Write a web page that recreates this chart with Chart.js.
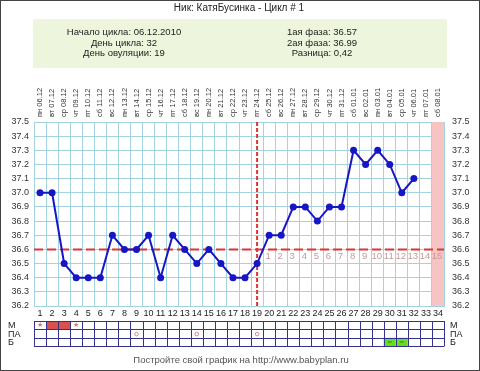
<!DOCTYPE html>
<html><head><meta charset="utf-8">
<script src="https://cdn.jsdelivr.net/npm/chart.js@4/dist/chart.umd.min.js"></script>
<style>html,body{margin:0;padding:0;background:#fff}canvas{display:block}</style>
</head><body>
<canvas id="c" width="480" height="371"></canvas>
<script>
// ---- data ----
const titleText = 'Ник: КатяБусинка - Цикл # 1';
const infoLeft = ['Начало цикла: 06.12.2010', 'День цикла: 32', 'День овуляции: 19'];
const infoRight = ['1ая фаза: 36.57', '2ая фаза: 36.99', 'Разница: 0,42'];
const footerText = 'Постройте свой график на http://www.babyplan.ru';

const days = ['1','2','3','4','5','6','7','8','9','10','11','12','13','14','15','16','17','18','19','20','21','22','23','24','25','26','27','28','29','30','31','32','33','34'];
const weekdays = ['пн','вт','ср','чт','пт','сб','вс','пн','вт','ср','чт','пт','сб','вс','пн','вт','ср','чт','пт','сб','вс','пн','вт','ср','чт','пт','сб','вс','пн','вт','ср','чт','пт','сб'];
const dates = ['06.12','07.12','08.12','09.12','10.12','11.12','12.12','13.12','14.12','15.12','16.12','17.12','18.12','19.12','20.12','21.12','22.12','23.12','24.12','25.12','26.12','27.12','28.12','29.12','30.12','31.12','01.01','02.01','03.01','04.01','05.01','06.01','07.01','08.01'];
const temps = [37.0,37.0,36.5,36.4,36.4,36.4,36.7,36.6,36.6,36.7,36.4,36.7,36.6,36.5,36.6,36.5,36.4,36.4,36.5,36.7,36.7,36.9,36.9,36.8,36.9,36.9,37.3,37.2,37.3,37.2,37.0,37.1,null,null];
const tempMin = 36.2, tempMax = 37.5, tempStep = 0.1;
const coverline = 36.6;
const ovulationDay = '19';
const lutealStartDay = '20';
const lutealLabels = ['1','2','3','4','5','6','7','8','9','10','11','12','13','14','15'];
const highlightDays = ['34'];
const rowLabels = ['М','ПА','Б'];
// per-day markers: M row ('s' = star, 'f' = filled), PA row ('o'), B row ('g')
const rowM  = ['s','f','f','s','','','','','','','','','','','','','','','','','','','','','','','','','','','','','',''];
const rowPA = ['','','','','','','','','o','','','','','o','','','','','o','','','','','','','','','','','','','','',''];
const rowB  = ['','','','','','','','','','','','','','','','','','','','','','','','','','','','','','g','g','','',''];

// ---- style ----
const FONT = "'Liberation Sans', Arial, sans-serif";
const gridColor = '#a3d3de';

const decor = {
  id: 'decor',
  beforeDraw(chart) {
    const ctx = chart.ctx;
    ctx.save();
    ctx.fillStyle = '#fff';
    ctx.fillRect(0, 0, chart.width, chart.height);
    ctx.fillStyle = '#222';
    ctx.font = '10px ' + FONT;
    ctx.textAlign = 'center';
    ctx.textBaseline = 'middle';
    ctx.fillText(titleText, 239, 8);
    ctx.fillStyle = '#edf6dc';
    ctx.fillRect(33, 19, 414, 49);
    ctx.fillStyle = '#222';
    ctx.font = '9.5px ' + FONT;
    const ys = [32, 43, 53.5];
    infoLeft.forEach((t, i) => ctx.fillText(t, 124, ys[i]));
    infoRight.forEach((t, i) => ctx.fillText(t, 322, ys[i]));
    ctx.restore();
  },
  beforeDatasetsDraw(chart) {
    const ctx = chart.ctx, a = chart.chartArea;
    const xs = chart.scales.x, ys = chart.scales.y;
    const cw = (a.right - a.left) / days.length;
    ctx.save();
    // highlighted column
    ctx.fillStyle = '#f8c3c3';
    highlightDays.forEach(d => {
      const x = xs.getPixelForValue(days.indexOf(d));
      ctx.fillRect(x - cw / 2, a.top, cw, a.bottom - a.top);
    });
    // coverline
    const yc = ys.getPixelForValue(coverline);
    ctx.strokeStyle = '#de3535';
    ctx.lineWidth = 2;
    ctx.setLineDash([9, 4]);
    ctx.beginPath();
    ctx.moveTo(a.left, yc); ctx.lineTo(a.right, yc);
    ctx.stroke();
    // ovulation line
    const xo = xs.getPixelForValue(days.indexOf(ovulationDay));
    ctx.setLineDash([4, 2]);
    ctx.beginPath();
    ctx.moveTo(xo, a.top); ctx.lineTo(xo, a.bottom);
    ctx.stroke();
    ctx.setLineDash([]);
    // luteal numbers
    ctx.fillStyle = '#c49a9a';
    ctx.font = '9.5px ' + FONT;
    ctx.textAlign = 'center';
    ctx.textBaseline = 'middle';
    const s = days.indexOf(lutealStartDay);
    lutealLabels.forEach((t, i) => {
      ctx.fillText(t, xs.getPixelForValue(s + i) - 1, yc + 7);
    });
    ctx.restore();
  },
  afterDraw(chart) {
    const ctx = chart.ctx, a = chart.chartArea;
    const xs = chart.scales.x;
    const cw = (a.right - a.left) / days.length;
    ctx.save();
    // top rotated date labels
    ctx.fillStyle = '#333';
    ctx.font = '7.5px ' + FONT;
    ctx.textAlign = 'left';
    ctx.textBaseline = 'middle';
    days.forEach((d, i) => {
      const x = xs.getPixelForValue(i);
      ctx.save();
      ctx.translate(x, a.top - 5);
      ctx.rotate(-Math.PI / 2);
      ctx.fillText(weekdays[i] + ' ' + dates[i], 0, 0);
      ctx.restore();
    });
    // table
    const tTop = 321, rh = 8.4;
    const rows = [rowM, rowPA, rowB];
    rows.forEach((row, r) => {
      const y0 = tTop + r * rh;
      row.forEach((m, i) => {
        const xc = xs.getPixelForValue(i), x0 = xc - cw / 2;
        if (m === 'f') { ctx.fillStyle = '#d9514d'; ctx.fillRect(x0, y0, cw, rh); }
        if (m === 'g') {
          ctx.fillStyle = '#66dd1e'; ctx.fillRect(x0, y0, cw, rh);
          ctx.strokeStyle = '#2f8a10'; ctx.lineWidth = 1;
          ctx.beginPath(); ctx.moveTo(xc - 2, y0 + rh / 2); ctx.lineTo(xc + 2, y0 + rh / 2); ctx.stroke();
        }
        if (m === 's') {
          ctx.fillStyle = '#c97a7a'; ctx.font = "7px 'DejaVu Sans', sans-serif";
          ctx.textAlign = 'center'; ctx.textBaseline = 'middle';
          ctx.fillText('★', xc, y0 + rh / 2);
        }
        if (m === 'o') {
          ctx.strokeStyle = '#cf7070'; ctx.lineWidth = 0.8;
          ctx.beginPath(); ctx.arc(xc, y0 + rh / 2 + 0.5, 1.8, 0, Math.PI * 2); ctx.stroke();
        }
      });
    });
    ctx.strokeStyle = '#33338f';
    ctx.lineWidth = 1;
    ctx.beginPath();
    for (let r = 0; r <= 3; r++) {
      const y = Math.round(tTop + r * rh) + 0.5;
      ctx.moveTo(a.left, y); ctx.lineTo(a.right, y);
    }
    for (let i = 0; i <= days.length; i++) {
      const x = Math.round(a.left + i * cw) + 0.5;
      ctx.moveTo(x, tTop); ctx.lineTo(x, Math.round(tTop + 3 * rh) + 0.5);
    }
    ctx.stroke();
    // row labels
    ctx.fillStyle = '#222';
    ctx.font = '9px ' + FONT;
    ctx.textBaseline = 'middle';
    rowLabels.forEach((t, r) => {
      const y = tTop + r * rh + rh / 2 + 0.5;
      ctx.textAlign = 'left';
      ctx.fillText(t, 8, y);
      ctx.fillText(t, 450, y);
    });
    // footer
    ctx.fillStyle = '#555';
    ctx.font = '9.5px ' + FONT;
    ctx.textAlign = 'center';
    ctx.fillText(footerText, 241, 360);
    // border
    ctx.strokeStyle = '#444';
    ctx.lineWidth = 1;
    ctx.strokeRect(0.5, 0.5, chart.width - 1, chart.height - 1);
    ctx.restore();
  }
};

const tickFont = { size: 9, family: FONT };
new Chart(document.getElementById('c'), {
  type: 'line',
  data: {
    labels: days,
    datasets: [{
      data: temps,
      borderColor: '#1616c4',
      backgroundColor: '#1616c4',
      borderWidth: 2,
      pointRadius: 3.5,
      pointBorderWidth: 0,
      tension: 0,
      spanGaps: false
    }]
  },
  options: {
    responsive: false,
    animation: false,
    devicePixelRatio: 1,
    layout: { padding: { top: 122, left: 0, right: 0, bottom: 0 } },
    plugins: { legend: { display: false }, tooltip: { enabled: false } },
    scales: {
      x: {
        type: 'category',
        offset: true,
        grid: { offset: true, color: gridColor, drawTicks: false },
        border: { color: gridColor },
        ticks: { autoSkip: false, maxRotation: 0, padding: 2, color: '#222', font: tickFont },
        afterFit(s) { s.height = 65; }
      },
      y: {
        position: 'left',
        min: tempMin, max: tempMax,
        grid: { color: gridColor, drawTicks: false },
        border: { color: gridColor },
        ticks: { stepSize: tempStep, autoSkip: false, padding: 5, color: '#333', font: tickFont, callback: v => v.toFixed(1) },
        afterFit(s) { s.width = 34; }
      },
      y2: {
        position: 'right',
        min: tempMin, max: tempMax,
        grid: { display: false, drawTicks: false },
        border: { display: true, color: gridColor },
        ticks: { stepSize: tempStep, autoSkip: false, padding: 8, color: '#333', font: tickFont, callback: v => v.toFixed(1) },
        afterFit(s) { s.width = 36; }
      }
    }
  },
  plugins: [decor]
});
</script>
</body></html>
